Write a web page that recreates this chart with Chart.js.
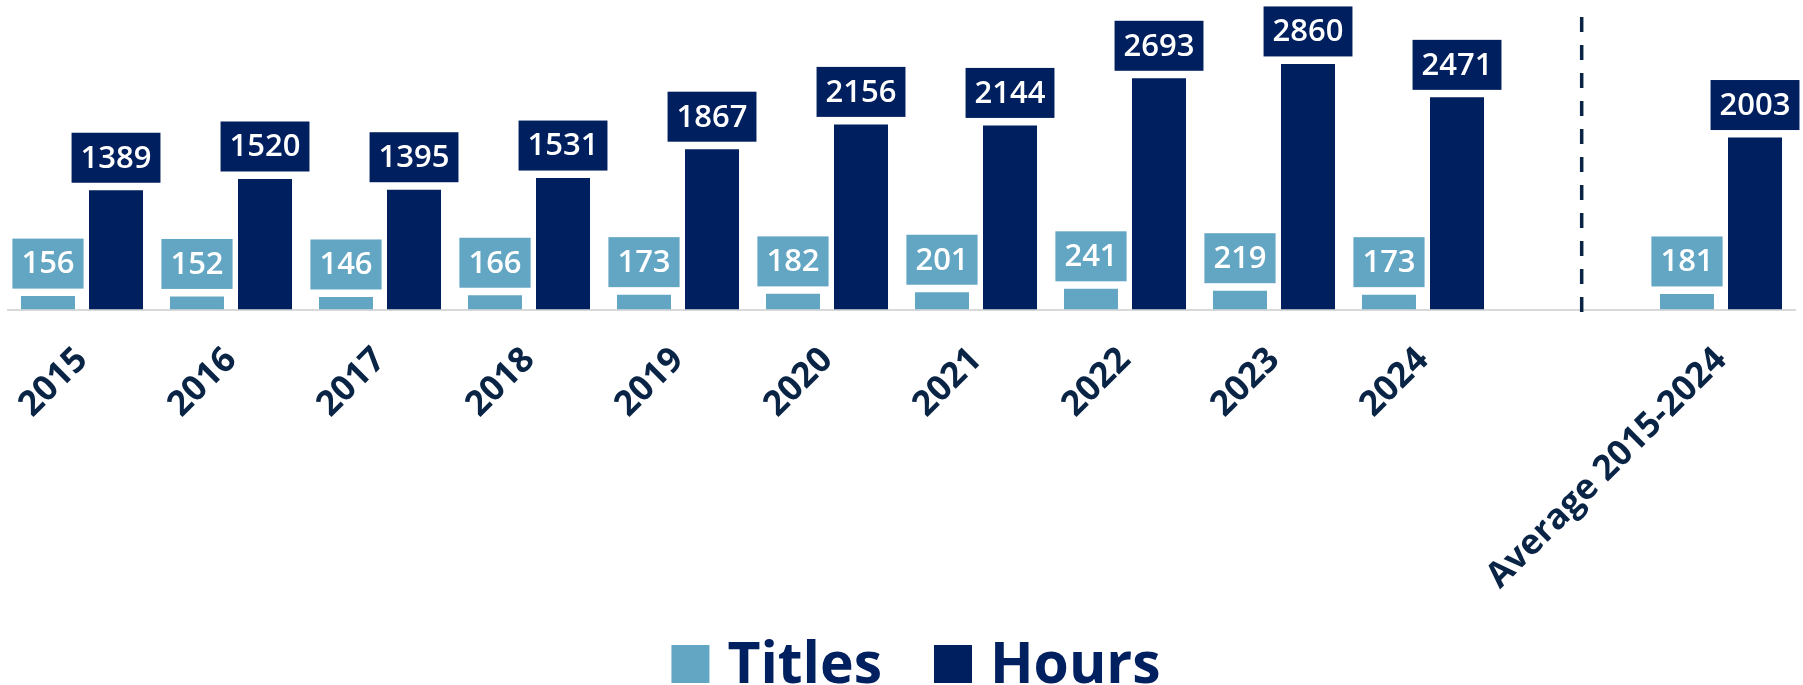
<!DOCTYPE html>
<html><head><meta charset="utf-8">
<script src="https://cdn.jsdelivr.net/npm/chart.js@4.4.1/dist/chart.umd.min.js"></script>
<style>html,body{margin:0;padding:0;background:#fff;overflow:hidden}#wrap{width:1803px;height:685px;position:relative}</style>
</head><body><div id="wrap"><canvas id="c" width="1803" height="685"></canvas></div>
<script>
const categories = ['2015','2016','2017','2018','2019','2020','2021','2022','2023','2024','','Average 2015-2024'];
const titles = [156,152,146,166,173,182,201,241,219,173,null,181];
const hours = [1389,1520,1395,1531,1867,2156,2144,2693,2860,2471,null,2003];
const seriesNames = ['Titles','Hours'];
const seriesColors = ['#63a6c4','#001f5e'];
const textNavy = '#0a2445';
const FONT = "'Open Sans', 'Noto Sans', sans-serif";

const labelPlugin = {
  id: 'boxLabels',
  afterDatasetsDraw(chart) {
    const ctx = chart.ctx;
    ctx.save();
    ctx.font = "600 31px " + FONT;
    ctx.textAlign = 'center';
    ctx.textBaseline = 'middle';
    chart.data.datasets.forEach((ds, di) => {
      const meta = chart.getDatasetMeta(di);
      meta.data.forEach((el, i) => {
        const v = ds.data[i];
        if (v === null || v === undefined) return;
        const txt = String(v);
        const w = ctx.measureText(txt).width + 18;
        const h = 50;
        const bottom = el.y - 7.5;
        ctx.fillStyle = ds.backgroundColor;
        ctx.fillRect(el.x - w / 2, bottom - h, w, h);
        ctx.fillStyle = '#ffffff';
        ctx.fillText(txt, el.x, bottom - h / 2 + 1);
      });
    });
    ctx.restore();
  }
};

const dividerPlugin = {
  id: 'divider',
  afterDraw(chart) {
    const xs = chart.scales.x;
    const step = xs.getPixelForValue(11) - xs.getPixelForValue(10);
    const x = xs.getPixelForValue(10) + step * 0.065;
    const ctx = chart.ctx;
    ctx.save();
    ctx.strokeStyle = textNavy;
    ctx.lineWidth = 3.5;
    ctx.setLineDash([15, 13]);
    ctx.beginPath();
    ctx.moveTo(x, 17);
    ctx.lineTo(x, 313);
    ctx.stroke();
    ctx.restore();
  }
};

const legendPlugin = {
  id: 'customLegend',
  afterDraw(chart) {
    const ctx = chart.ctx;
    ctx.save();
    ctx.font = "700 57px " + FONT;
    ctx.textBaseline = 'alphabetic';
    ctx.textAlign = 'left';
    const box = 38, gapText = 18, gapItem = 52;
    const widths = seriesNames.map(n => ctx.measureText(n).width);
    const total = widths.reduce((a, b) => a + b, 0) + seriesNames.length * (box + gapText) + gapItem * (seriesNames.length - 1);
    let x = 916 - total / 2;
    const baseY = 683;
    seriesNames.forEach((n, i) => {
      ctx.fillStyle = seriesColors[i];
      ctx.fillRect(x, baseY - box, box, box);
      x += box + gapText;
      ctx.fillStyle = '#002060';
      ctx.fillText(n, x, baseY);
      x += widths[i] + gapItem;
    });
    ctx.restore();
  }
};

new Chart(document.getElementById('c'), {
  type: 'bar',
  data: {
    labels: categories,
    datasets: [
      { label: seriesNames[0], data: titles, backgroundColor: seriesColors[0], categoryPercentage: 0.913, barPercentage: 0.794 },
      { label: seriesNames[1], data: hours, backgroundColor: seriesColors[1], categoryPercentage: 0.913, barPercentage: 0.794 }
    ]
  },
  options: {
    responsive: false,
    animation: false,
    devicePixelRatio: 1,
    layout: { padding: { left: 7.5, right: 7.5, top: 9, bottom: 0 } },
    plugins: { legend: { display: false }, tooltip: { enabled: false } },
    scales: {
      x: {
        grid: { display: false, drawTicks: false },
        border: { display: true, color: '#d9d9d9', width: 2 },
        ticks: {
          autoSkip: false, minRotation: 45, maxRotation: 45, padding: 30,
          color: textNavy, font: { family: FONT, size: 35, weight: '700' }
        },
        afterFit(s) { s.height = 375.5; s.paddingLeft = 0; s.paddingRight = 0; }
      },
      y: { display: false, min: 0, max: 3500 }
    }
  },
  plugins: [labelPlugin, dividerPlugin, legendPlugin]
});
</script></body></html>
